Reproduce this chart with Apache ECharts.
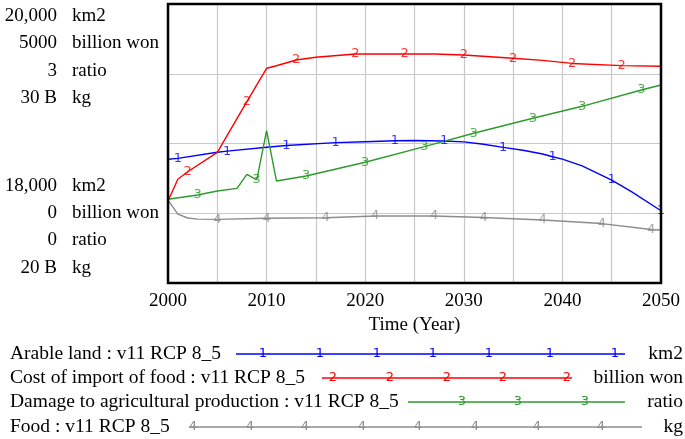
<!DOCTYPE html>
<html>
<head>
<meta charset="utf-8">
<script src="https://cdn.jsdelivr.net/npm/echarts@6/dist/echarts.min.js"></script>
<style>
html,body{margin:0;padding:0;background:#fff;}
#chart{width:685px;height:439px;}
</style>
</head>
<body>
<div id="chart"></div>
<script>
// ---------- data ----------
const xTickLabels = ['2000', '2010', '2020', '2030', '2040', '2050'];
const xTitle = 'Time (Year)';

const arableYears = [2000, 2001, 2005, 2006, 2010, 2012, 2017, 2020, 2023, 2025, 2028, 2030, 2032, 2034, 2036, 2038, 2039, 2040, 2042, 2045, 2047, 2050];
const arableValues = [18887, 18893, 18937, 18945, 18973, 18986, 19006, 19013, 19020, 19022, 19018, 19012, 18995, 18972, 18952, 18925, 18905, 18888, 18840, 18738, 18655, 18518];
const arableMarkerYears = [2001, 2006, 2012, 2017, 2023, 2028, 2034, 2039, 2045, 2050];

const costYears = [2000, 2001, 2002, 2005, 2008, 2010, 2011, 2013, 2015, 2019, 2024, 2027, 2030, 2035, 2038, 2041, 2046, 2050];
const costValues = [1470, 1860, 1994, 2342, 3249, 3848, 3894, 3996, 4045, 4104, 4104, 4104, 4086, 4027, 3990, 3935, 3895, 3885];
const costMarkerYears = [2002, 2008, 2013, 2019, 2024, 2030, 2035, 2041, 2046];

const damageYears = [2000, 2003, 2005, 2007, 2008, 2009, 2010, 2011, 2014, 2020, 2026, 2031, 2037, 2042, 2048, 2050];
const damageValues = [0.90, 0.946, 0.989, 1.018, 1.169, 1.108, 1.638, 1.097, 1.151, 1.298, 1.466, 1.61, 1.771, 1.9, 2.075, 2.129];
const damageMarkerYears = [2003, 2009, 2014, 2020, 2026, 2031, 2037, 2042, 2048];

const foodYears = [2000, 2001, 2002, 2003, 2005, 2010, 2016, 2021, 2027, 2032, 2038, 2044, 2049, 2050];
const foodValuesB = [22.97, 22.47, 22.33, 22.29, 22.28, 22.32, 22.34, 22.40, 22.40, 22.35, 22.26, 22.13, 21.92, 21.90];
const foodMarkerYears = [2005, 2010, 2016, 2021, 2027, 2032, 2038, 2044, 2049];

const seriesNames = ['Arable land : v11 RCP 8_5', 'Cost of import of food : v11 RCP 8_5', 'Damage to agricultural production : v11 RCP 8_5', 'Food : v11 RCP 8_5'];
const seriesUnits = ['km2', 'billion won', 'ratio', 'kg'];
const markerDigits = ['1', '2', '3', '4'];
const axisMins = [18000, 0, 0, 20];
const axisMaxs = [20000, 5000, 3, 30];
const topTickNumbers = ['20,000', '5000', '3', '30 B'];
const bottomTickNumbers = ['18,000', '0', '0', '20 B'];

// ---------- styling ----------
const colors = ['#0000ff', '#ff0000', '#2c9a2c', '#8c8c8c'];
const SERIF = '"Liberation Serif", "Times New Roman", serif';
const DIGITFONT = '"DejaVu Sans", sans-serif';
const gridL = 168, gridR = 24, gridT = 4, gridB = 156;

function pairs(xs, ys) { return xs.map((x, i) => [x, ys[i]]); }
function pick(xs, ys, sel) { return sel.map(s => [s, ys[xs.indexOf(s)]]); }

const allYears = [arableYears, costYears, damageYears, foodYears];
const allValues = [arableValues, costValues, damageValues, foodValuesB];
const allMarkers = [arableMarkerYears, costMarkerYears, damageMarkerYears, foodMarkerYears];

const yAxes = axisMins.map((mn, i) => ({
  type: 'value', min: mn, max: axisMaxs[i], interval: (axisMaxs[i] - mn) / 4,
  position: 'left',
  axisLine: { show: false }, axisTick: { show: false }, axisLabel: { show: false },
  splitLine: { show: i === 0, lineStyle: { color: '#c8c8c8', width: 1.2 } }
}));

const series = [];
for (let i = 0; i < 4; i++) {
  series.push({
    type: 'line', yAxisIndex: i, data: pairs(allYears[i], allValues[i]),
    showSymbol: false, symbol: 'none', silent: true,
    lineStyle: { color: colors[i], width: 1.4 }, z: 3 + i
  });
  series.push({
    type: 'scatter', yAxisIndex: i, data: pick(allYears[i], allValues[i], allMarkers[i]),
    symbolSize: 1, itemStyle: { color: 'rgba(0,0,0,0)' }, silent: true, z: 10,
    label: { show: true, position: 'inside', formatter: markerDigits[i], color: colors[i],
      fontFamily: DIGITFONT, fontSize: 13 }
  });
}

// left stacked axis labels
const graphics = [];
const topYs = [16.5, 43.5, 71, 98];
const botYs = [186.5, 213.5, 240.5, 268];
function axisText(num, unit, y) {
  graphics.push({ type: 'text', silent: true, style: { text: num, x: 57, y: y, align: 'right', verticalAlign: 'middle', font: '19px ' + SERIF, fill: '#000' } });
  graphics.push({ type: 'text', silent: true, style: { text: unit, x: 72, y: y, align: 'left', verticalAlign: 'middle', font: '19px ' + SERIF, fill: '#000' } });
}
for (let i = 0; i < 4; i++) {
  axisText(topTickNumbers[i], seriesUnits[i], topYs[i]);
  axisText(bottomTickNumbers[i], seriesUnits[i], botYs[i]);
}

// legend rows (layout only)
const legendRows = [
  { y: 354, x1: 236, x2: 625, marks: [263, 320, 377, 433, 489, 550, 615] },
  { y: 378, x1: 322, x2: 572, marks: [333, 390, 447, 503, 567] },
  { y: 402, x1: 408, x2: 625, marks: [462, 518, 585] },
  { y: 427, x1: 189, x2: 642, marks: [193, 250, 305, 362, 418, 475, 537, 601] }
];
legendRows.forEach((r, i) => {
  graphics.push({ type: 'text', silent: true, style: { text: seriesNames[i], x: 10, y: r.y, align: 'left', verticalAlign: 'middle', font: '19.5px ' + SERIF, fill: '#000' } });
  graphics.push({ type: 'line', silent: true, shape: { x1: r.x1, y1: r.y, x2: r.x2, y2: r.y }, style: { stroke: colors[i], lineWidth: 1.4 } });
  r.marks.forEach(mx => graphics.push({ type: 'text', silent: true, style: { text: markerDigits[i], x: mx, y: r.y, align: 'center', verticalAlign: 'middle', font: '13px ' + DIGITFONT, fill: colors[i] } }));
  graphics.push({ type: 'text', silent: true, style: { text: seriesUnits[i], x: 683, y: r.y, align: 'right', verticalAlign: 'middle', font: '19.5px ' + SERIF, fill: '#000' } });
});

const chart = echarts.init(document.getElementById('chart'), null, { renderer: 'canvas' });
chart.setOption({
  animation: false,
  backgroundColor: '#fff',
  grid: { left: gridL, right: gridR, top: gridT, bottom: gridB, show: true, borderColor: '#000', borderWidth: 2.5, backgroundColor: 'transparent', z: 20 },
  xAxis: {
    type: 'value', min: 2000, max: 2050, interval: 5,
    axisLine: { show: false }, axisTick: { show: false },
    splitLine: { show: true, lineStyle: { color: '#c8c8c8', width: 1.2 } },
    axisLabel: { margin: 9, fontFamily: SERIF, fontSize: 19, color: '#000',
      formatter: v => xTickLabels.indexOf(String(v)) >= 0 ? String(v) : '' },
    name: xTitle, nameLocation: 'middle', nameGap: 30,
    nameTextStyle: { fontFamily: SERIF, fontSize: 19, color: '#000' }
  },
  yAxis: yAxes,
  series: series,
  graphic: graphics
});
</script>
</body>
</html>
